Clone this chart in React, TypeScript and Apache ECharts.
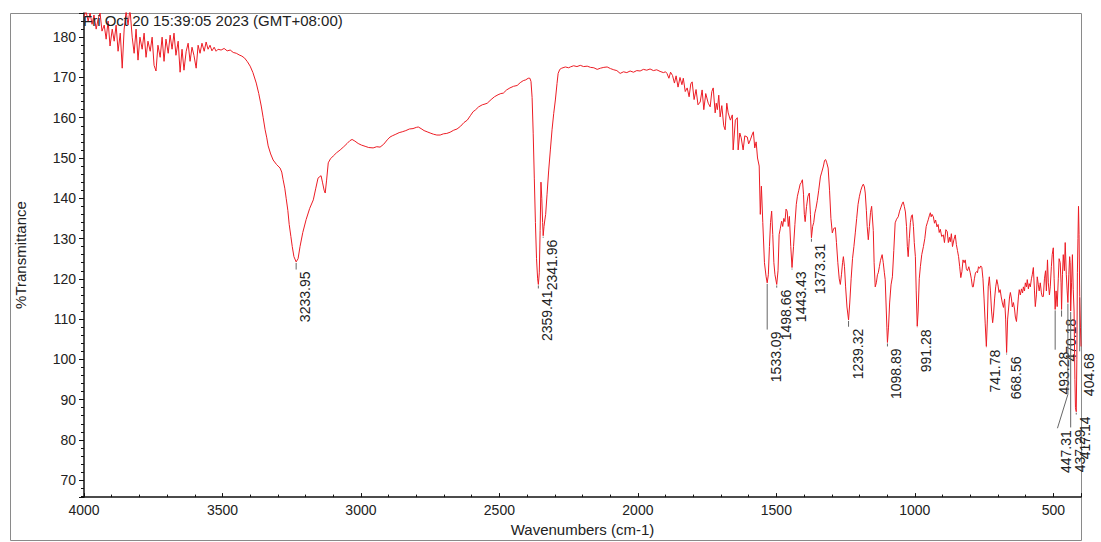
import React, { useEffect, useRef } from "react";
import * as echarts from "echarts";

const FONT = '"Liberation Sans", Arial, sans-serif';
const TITLE = "Fri Oct 20 15:39:05 2023 (GMT+08:00)";
const X_NAME = "Wavenumbers (cm-1)";
const Y_NAME = "%Transmittance";

// Spectrum: [wavenumber cm-1, %T]
const region4000to3520: [number, number][] = [
  [4000, 185], [3993, 186.5], [3985, 184], [3978, 186], [3971, 183.2], [3964, 185.5], [3956, 182],
  [3949, 184.5], [3942, 186], [3935, 181.5], [3927, 183], [3920, 179.5], [3913, 184], [3906, 177.8],
  [3898, 182], [3891, 179], [3884, 183], [3877, 176.5], [3869, 181], [3862, 172.3], [3855, 182],
  [3848, 186.5], [3841, 183], [3834, 187], [3826, 180], [3819, 176], [3812, 182], [3805, 174.3],
  [3798, 180], [3790, 177], [3783, 181], [3776, 175], [3769, 179], [3761, 176.5], [3754, 180],
  [3747, 173], [3740, 171.6], [3733, 178], [3725, 175], [3718, 180], [3711, 174], [3704, 179.5],
  [3696, 176], [3689, 180.5], [3682, 177], [3675, 181], [3668, 175.5], [3660, 179], [3653, 171.3],
  [3646, 177], [3639, 171.8], [3631, 176.5], [3624, 178.5], [3617, 174], [3610, 177.5], [3603, 175.5],
  [3595, 172.3], [3588, 178], [3581, 176], [3574, 178.5], [3566, 176.5], [3559, 178.8], [3552, 177],
  [3545, 178], [3538, 176.6], [3530, 177.5], [3523, 176.5],
];

const region3516to3100: [number, number][] = [
  [3516, 177], [3505, 176.8], [3494, 177.2], [3483, 176.6], [3472, 176.8], [3461, 176.2], [3450, 176],
  [3440, 175.6], [3430, 175.3], [3420, 174.8], [3410, 173.9], [3400, 172.8], [3390, 171.2], [3378, 168.6],
  [3369, 166], [3360, 162.9], [3353, 160], [3346, 157], [3340, 155], [3335, 153], [3326, 151],
  [3317, 149.5], [3305, 148.4], [3292, 147.5], [3286, 146.5], [3281, 144.6], [3275, 142.5], [3270, 140],
  [3264, 137], [3259, 133.5], [3253, 130.5], [3248, 128], [3242, 125.5], [3233.95, 124.2], [3227, 125],
  [3220, 128], [3210, 131.5], [3198, 134.7], [3185, 137.5], [3172, 139.6], [3163, 142.5], [3155, 145],
  [3148, 145.4], [3144, 145.6], [3139, 144], [3133, 142], [3129, 141.3], [3124, 144.5], [3118, 148.8],
  [3110, 149.8], [3100, 150.5],
];

const region3090to2396: [number, number][] = [
  [3088, 151.3], [3075, 152], [3062, 152.8], [3050, 153.6], [3040, 154.3], [3032, 154.6], [3022, 154.2],
  [3010, 153.6], [2998, 153.2], [2985, 152.9], [2972, 152.6], [2956, 152.5], [2943, 152.8], [2931, 152.7],
  [2918, 153.4], [2905, 154.5], [2895, 155.2], [2887, 155.5], [2874, 155.9], [2862, 156.3], [2851, 156.5],
  [2838, 156.8], [2825, 157.2], [2812, 157.3], [2800, 157.6], [2793, 157.7], [2783, 157.3], [2772, 156.8],
  [2761, 156.5], [2750, 156.2], [2738, 155.9], [2726, 155.7], [2714, 155.7], [2702, 156], [2690, 156.1],
  [2678, 156.4], [2665, 156.9], [2653, 157.2], [2640, 157.9], [2628, 158.8], [2616, 159.4], [2604, 160.6],
  [2595, 161.5], [2587, 161.9], [2575, 162.7], [2562, 163.2], [2552, 163.4], [2544, 163.6], [2530, 164.5],
  [2518, 165.2], [2505, 165.7], [2495, 166], [2486, 166.1], [2474, 166.9], [2462, 167.4], [2449, 167.8],
  [2436, 168], [2425, 168.7], [2414, 169.2], [2405, 169.4], [2396, 169.8],
];

const regionCO2: [number, number][] = [
  [2390, 169.8], [2386, 169], [2382, 165], [2378, 156], [2374, 145], [2370, 134], [2366, 125], [2362, 120],
  [2359.41, 118.6], [2356, 121.5], [2353, 132], [2350, 144], [2347, 140], [2344, 134], [2341.96, 130.7],
  [2339, 133], [2336, 134.6], [2333, 136], [2328, 141], [2322, 147], [2316, 152], [2310, 157], [2304, 161],
  [2298, 164.4], [2292, 168.5], [2288, 171], [2282, 172],
];

const region2275to1900: [number, number][] = [
  [2275, 172.3], [2262, 172.6], [2250, 172.4], [2244, 172.6], [2232, 172.9], [2220, 172.7], [2208, 173],
  [2196, 172.7], [2183, 172.8], [2171, 172.5], [2159, 172.4], [2147, 172], [2135, 172.3], [2123, 172.5],
  [2111, 172.6], [2099, 172.2], [2087, 171.9], [2076, 171.7], [2064, 171], [2052, 171.4], [2040, 171.2],
  [2028, 171.6], [2016, 171.3], [2004, 171.7], [1992, 171.6], [1980, 172], [1968, 171.8], [1956, 172.1],
  [1944, 171.7], [1932, 171.9], [1920, 171.5], [1908, 171.2], [1900, 171.4],
];

const region1895to1533: [number, number][] = [
  [1895, 171], [1888, 169.8], [1882, 171.3], [1875, 170.5], [1868, 168.6], [1862, 170.4], [1855, 167.6],
  [1848, 170], [1841, 168.2], [1836, 169.8], [1829, 166.5], [1822, 167.4], [1815, 165.2], [1809, 168.4],
  [1804, 168.9], [1797, 164.5], [1790, 167], [1783, 163.2], [1775, 163.9], [1768, 166.9], [1762, 162],
  [1755, 166], [1746, 163.6], [1739, 162.7], [1733, 166.5], [1728, 167.4], [1721, 161.2], [1717, 163.6],
  [1713, 162], [1708, 165.6], [1703, 160.2], [1697, 163], [1690, 158], [1685, 157], [1679, 163.6],
  [1674, 161.2], [1666, 159.4], [1659, 160.7], [1656, 152], [1648, 159.4], [1641, 160], [1638, 152],
  [1632, 156.2], [1627, 155], [1620, 152], [1614, 155.5], [1605, 155.2], [1600, 153.5], [1594, 154.5],
  [1588, 155.7], [1583, 156.5], [1578, 152.5], [1573, 154], [1568, 150], [1562, 148], [1558, 136],
  [1554, 143], [1549, 134], [1543, 124], [1537, 120.5], [1533.09, 119],
];

const region1529to1000: [number, number][] = [
  [1529, 121], [1525, 128], [1521, 134], [1517, 136.8], [1513, 131], [1509, 124], [1505, 121],
  [1498.66, 118.6], [1494, 122], [1490, 131], [1486, 132.4], [1481, 134.3], [1477, 133], [1473, 135],
  [1469, 134.2], [1465, 137.3], [1461, 136.8], [1457, 133], [1453, 135.5], [1448, 128], [1443.43, 122.8],
  [1438, 128], [1433, 133.5], [1428, 138.5], [1424, 140.5], [1419, 142], [1414, 143.5], [1410, 143.9],
  [1406, 144.6], [1402, 141], [1399, 136], [1396, 134.2], [1391, 138], [1386, 140.5], [1381, 141.3],
  [1377, 136], [1373.31, 130.2], [1369, 133], [1365, 134], [1361, 136.3], [1357, 137.5], [1352, 139.5],
  [1347, 142], [1341, 145.3], [1336, 146.5], [1330, 148], [1326, 149.4], [1322, 149.6], [1318, 148.8],
  [1313, 147.5], [1308, 142], [1303, 135], [1298, 131.4], [1293, 132.5], [1287, 132.7], [1283, 129],
  [1278, 124], [1273, 120], [1269, 118.6], [1265, 121], [1261, 124], [1258, 125.5], [1254, 123],
  [1250, 118], [1245, 113], [1239.32, 109.8], [1235, 114], [1230, 120], [1225, 125], [1220, 128],
  [1215, 131.4], [1210, 135], [1205, 138.5], [1200, 140.5], [1195, 142], [1190, 143], [1186, 143.5],
  [1182, 142.8], [1179, 141.3], [1175, 137], [1172, 133], [1168, 129.7], [1164, 133], [1160, 136.5],
  [1156, 138], [1154, 137.9], [1150, 132], [1147, 124], [1143, 118], [1139, 119], [1135, 121],
  [1132, 121.5], [1128, 123], [1124, 124.6], [1118, 126], [1114, 124], [1110, 121.5], [1107, 119.8],
  [1104, 114], [1101, 108], [1098.89, 104.2], [1095, 108], [1091, 114], [1086, 118.5], [1081, 120.5],
  [1076, 127], [1071, 133.9], [1066, 134.8], [1060, 135.4], [1055, 136.8], [1050, 137.8], [1046, 138.6],
  [1042, 139.1], [1038, 138], [1034, 136.6], [1030, 133], [1027, 128], [1024, 125.5], [1020, 130],
  [1016, 134], [1012, 135.7], [1009, 135.9], [1005, 133], [1002, 129],
];

const region998to400: [number, number][] = [
  [998, 125.5], [995, 117], [991.28, 108.2], [988, 112], [984, 120], [980, 123], [975, 126], [969, 128],
  [964, 130], [959, 133], [955, 133.9], [951, 134.8], [947, 135.8], [944, 136.4], [941, 135.4], [938, 136],
  [933, 135.4], [929, 133.8], [925, 134.6], [920, 132.9], [916, 133.5], [912, 131.5], [908, 132.3],
  [903, 130.5], [897, 130.9], [893, 129], [888, 132.2], [883, 131.7], [879, 129], [875, 130.3],
  [872, 129.2], [868, 131.2], [864, 128], [859, 129.7], [854, 130.9], [850, 128.5], [846, 127],
  [842, 125.5], [838, 123], [834, 120.3], [830, 121.8], [826, 124.7], [822, 124], [818, 124.7],
  [814, 122.5], [810, 122], [805, 123], [800, 121.5], [796, 120], [792, 118], [789, 118], [785, 120],
  [781, 121.5], [777, 121.8], [774, 121.5], [770, 123], [766, 122.6], [762, 123.2], [758, 122.8],
  [754, 120], [750, 115], [746, 109], [741.78, 103.2], [738, 110], [735, 118], [731, 120.5], [727, 117],
  [723, 112], [719, 109.1], [716, 111], [712, 115], [708, 118], [704, 119.8], [700, 118.5], [696, 116.6],
  [692, 117.3], [688, 115.5], [684, 114], [680, 112.9], [676, 115], [672, 110], [668.56, 101.7],
  [665, 110], [661, 113], [658, 115.5], [655, 116.6], [651, 115], [648, 113], [644, 114.1], [640, 112.5],
  [637, 110.5], [633, 109.4], [630, 112], [626, 115.5], [623, 117.3], [619, 116], [615, 117.5],
  [611, 116.5], [608, 118], [604, 117], [601, 119], [597, 118], [594, 119.8], [590, 117.5], [587, 118.8],
  [583, 118], [579, 120], [576, 121], [572, 122.8], [568, 117], [565, 113.1], [561, 116], [558, 120.5],
  [554, 118.5], [551, 117], [547, 119], [543, 116.5], [540, 115.6], [536, 115.6], [532, 120], [528, 122],
  [525, 117], [521, 124.7], [518, 119], [514, 116], [511, 118], [507, 123], [504, 126], [500, 127.7],
  [497, 120], [493.28, 112.4], [490, 117], [486, 113.1], [482, 120], [479, 125], [475, 124], [472, 119],
  [470.18, 112.4], [467, 121], [464, 126], [460, 122], [457, 129], [453, 121], [450, 117], [447.31, 114.1],
  [444, 121], [441, 125.5], [439, 124], [437.29, 112], [434, 119], [431, 126], [428, 117.3], [425, 112],
  [422, 95], [420, 88], [417.14, 87], [415, 100], [413, 121.5], [411, 130], [409, 138], [407, 131],
  [404.68, 115.6], [402, 108], [400, 103.2],
];

// Peak annotations
const peakWaves = [3233.95, 2359.41, 2341.96, 1533.09, 1498.66, 1443.43, 1373.31, 1239.32, 1098.89, 991.28, 741.78, 668.56, 493.28, 470.18, 447.31, 437.29, 417.14, 404.68];
const peakTipT = [124.2, 118.6, 130.7, 119.0, 118.6, 122.8, 130.2, 109.8, 104.2, 108.2, 103.2, 101.7, 112.4, 112.4, 114.1, 112.0, 87.0, 115.6];
const labelTopT = [122.3, 117.6, 130.2, 107.4, 117.8, 122.3, 129.2, 108.1, 103.2, 107.9, 102.9, 101.2, 102.4, 110.6, 82.9, 83.1, 86.3, 102.0];
const leaderBendT = [122.3, 117.6, 130.2, 107.4, 117.8, 122.3, 129.2, 108.1, 103.2, 107.9, 102.9, 101.2, 102.4, 110.6, 91.3, 83.1, 86.3, 102.0];
const leaderEndWave = [3233.95, 2359.41, 2341.96, 1533.09, 1498.66, 1443.43, 1373.31, 1239.32, 1098.89, 991.28, 741.78, 668.56, 493.28, 470.18, 485, 437.29, 417.14, 404.68];

export default function App() {
  const ref = useRef<HTMLDivElement>(null);

  useEffect(() => {
    if (!ref.current) return;
    const chart = echarts.init(ref.current, null, { renderer: "svg" });
    const spectrum = [
      ...region4000to3520,
      ...region3516to3100,
      ...region3090to2396,
      ...regionCO2,
      ...region2275to1900,
      ...region1895to1533,
      ...region1529to1000,
      ...region998to400,
    ];
    const peaks = peakWaves.map((w, i) => [w, peakTipT[i], labelTopT[i], leaderBendT[i], leaderEndWave[i]]);
    const axisColor = "#111";
    const textColor = "#222";

    chart.setOption({
      animation: false,
      grid: { left: 84, top: 13, width: 997, height: 485, show: false },
      graphic: [
        {
          type: "rect",
          silent: true,
          z: 0,
          shape: { x: 10.5, y: 13.5, width: 1071, height: 527 },
          style: { fill: "none", stroke: "#8a8a8a", lineWidth: 1 },
        },
        {
          type: "text",
          left: 83,
          top: 13,
          z: 10,
          style: { text: TITLE, font: `15px ${FONT}`, fill: textColor },
        },
      ],
      xAxis: {
        type: "value",
        min: 400,
        max: 4000,
        inverse: true,
        splitNumber: 7,
        name: X_NAME,
        nameLocation: "middle",
        nameGap: 23,
        nameTextStyle: { fontSize: 15, fontFamily: FONT, color: textColor },
        axisLine: { show: true, onZero: false, lineStyle: { color: axisColor, width: 1.5 } },
        axisTick: { show: true, inside: true, length: 4, lineStyle: { color: axisColor } },
        minorTick: { show: true, splitNumber: 5, length: 2.5, lineStyle: { color: axisColor } },
        splitLine: { show: false },
        axisLabel: {
          fontSize: 14,
          fontFamily: FONT,
          color: textColor,
          margin: 6,
          formatter: (v: number) => (Math.abs(v % 500) < 1e-6 ? String(v) : ""),
        },
      },
      yAxis: {
        type: "value",
        min: 65.8,
        max: 186,
        splitNumber: 12,
        name: Y_NAME,
        nameLocation: "middle",
        nameGap: 56,
        nameTextStyle: { fontSize: 15, fontFamily: FONT, color: textColor },
        axisLine: { show: true, onZero: false, lineStyle: { color: axisColor, width: 1.5 } },
        axisTick: { show: true, inside: false, length: 5, lineStyle: { color: axisColor } },
        minorTick: { show: true, splitNumber: 5, length: 3, lineStyle: { color: axisColor } },
        splitLine: { show: false },
        axisLabel: {
          fontSize: 14,
          fontFamily: FONT,
          color: textColor,
          margin: 8,
          formatter: (v: number) => (Math.abs(v % 10) < 1e-6 ? String(v) : ""),
        },
      },
      series: [
        {
          type: "line",
          data: spectrum,
          showSymbol: false,
          symbol: "none",
          silent: true,
          clip: true,
          lineStyle: { color: "#ec1c24", width: 1 },
        },
        {
          type: "custom",
          data: peaks,
          silent: true,
          clip: false,
          encode: { x: 0, y: 1 },
          renderItem: (params: any, api: any) => {
            const w = api.value(0);
            const tip = api.value(1);
            const top = api.value(2);
            const bend = api.value(3);
            const endW = api.value(4);
            const p0 = api.coord([w, tip]);
            const p1 = api.coord([w, bend]);
            const p2 = api.coord([endW, top]);
            const label = peakWaves[params.dataIndex].toFixed(2);
            return {
              type: "group",
              children: [
                {
                  type: "polyline",
                  shape: { points: [[p0[0], p0[1] + 1], [p1[0], p1[1]], [p2[0], p2[1]]] },
                  style: { stroke: "#666", lineWidth: 1, fill: null },
                },
                {
                  type: "text",
                  x: p2[0] + 9,
                  y: p2[1] + 2,
                  rotation: Math.PI / 2,
                  style: {
                    text: label,
                    font: `14px ${FONT}`,
                    fill: textColor,
                    align: "right",
                    verticalAlign: "middle",
                  },
                },
              ],
            };
          },
        },
      ],
    });

    return () => chart.dispose();
  }, []);

  return (
    <div
      ref={ref}
      style={{ position: "absolute", left: 0, top: 0, width: 1101, height: 542, background: "#fff" }}
    />
  );
}
